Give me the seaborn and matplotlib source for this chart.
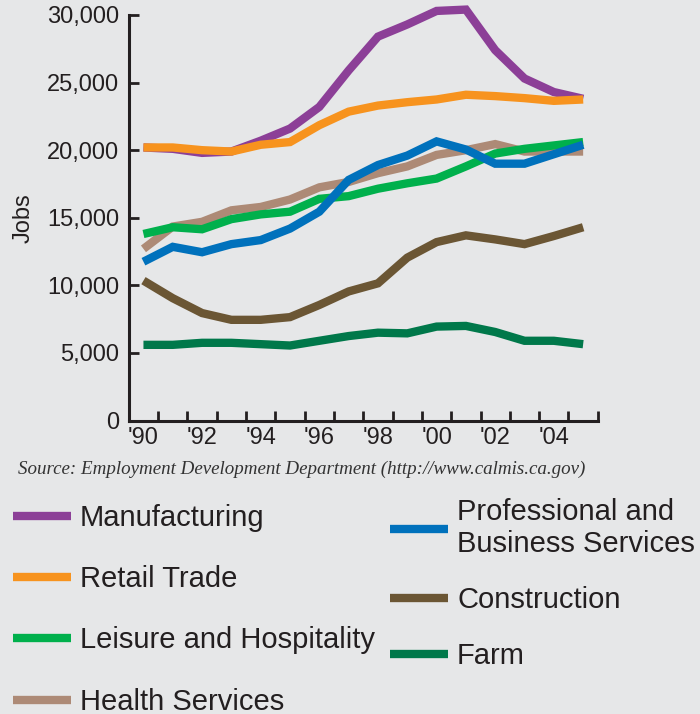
import pandas as pd
import seaborn as sns
import matplotlib.pyplot as plt
from matplotlib.lines import Line2D
from matplotlib.ticker import FuncFormatter

years = list(range(1990, 2006))

manufacturing = [20200, 20100, 19800, 19900, 20700, 21600, 23200, 25900,
                 28400, 29300, 30300, 30400, 27400, 25300, 24300, 23800]
retail_trade = [20200, 20200, 20000, 19900, 20400, 20600, 21850, 22850,
                23300, 23550, 23750, 24100, 24000, 23850, 23650, 23750]
leisure_hospitality = [13800, 14300, 14150, 14900, 15250, 15450, 16400, 16600,
                       17150, 17550, 17900, 18800, 19750, 20100, 20350, 20600]
health_services = [12700, 14350, 14700, 15550, 15800, 16350, 17250, 17650,
                   18300, 18800, 19650, 20000, 20450, 19900, 19900, 19900]
professional_business = [11750, 12850, 12450, 13050, 13350, 14200, 15450, 17800,
                         18900, 19600, 20650, 20050, 19000, 19000, 19700, 20400]
construction = [10350, 9050, 7950, 7450, 7450, 7650, 8550, 9550,
                10150, 12050, 13200, 13700, 13400, 13050, 13650, 14300]
farm = [5600, 5600, 5750, 5750, 5650, 5550, 5900, 6250,
        6500, 6450, 6950, 7000, 6550, 5900, 5900, 5650]

sectors = ["Manufacturing", "Retail Trade", "Leisure and Hospitality",
           "Health Services", "Professional and\nBusiness Services",
           "Construction", "Farm"]
series = [manufacturing, retail_trade, leisure_hospitality, health_services,
          professional_business, construction, farm]
colors = ["#8c3f97", "#f7931e", "#00b04c", "#ad8a76", "#0071bc", "#6b5634", "#00784a"]
palette = dict(zip(sectors, colors))

# order the lines are drawn in (later = on top)
draw_order = [sectors[0], sectors[3], sectors[2], sectors[1],
              sectors[5], sectors[6], sectors[4]]

rows = []
for name, vals in zip(sectors, series):
    for y, v in zip(years, vals):
        rows.append(dict(year=y, jobs=v, sector=name))
df = pd.DataFrame(rows)

bg = "#e6e7e8"
txt = "#231f20"

sns.set_style("ticks")
plt.rcParams["font.family"] = ["Liberation Sans", "DejaVu Sans"]

fig = plt.figure(figsize=(7, 7.14), dpi=100, facecolor=bg)
ax = fig.add_axes([0.184, 0.411, 0.67, 0.568])
ax.set_facecolor(bg)

sns.lineplot(data=df, x="year", y="jobs", hue="sector", hue_order=draw_order,
             palette=palette, linewidth=6, legend=False, ax=ax,
             solid_capstyle="butt", solid_joinstyle="miter")
for line in ax.lines:
    line.set_clip_on(False)

ax.set_xlim(1989.5, 2005.5)
ax.set_ylim(0, 30000)
ax.set_yticks(range(0, 30001, 5000))
ax.yaxis.set_major_formatter(FuncFormatter(lambda v, p: f"{int(v):,}"))
ax.set_xticks(range(1990, 2005, 2))
ax.set_xticklabels([f"'{y % 100:02d}" for y in range(1990, 2005, 2)])
ax.set_xticks([y + 0.5 for y in range(1989, 2006)], minor=True)

ax.tick_params(axis="x", which="major", length=0, pad=5, labelsize=17, labelcolor=txt)
ax.tick_params(axis="x", which="minor", direction="in", length=7, width=2, color=txt)
ax.tick_params(axis="y", direction="in", length=7, width=2, color=txt,
               pad=7, labelsize=17, labelcolor=txt)

for side in ["top", "right"]:
    ax.spines[side].set_visible(False)
for side in ["left", "bottom"]:
    ax.spines[side].set_linewidth(2.2)
    ax.spines[side].set_color(txt)

ax.set_xlabel("")
ax.set_ylabel("Jobs", fontsize=17, color=txt, labelpad=9)

fig.text(0.026, 0.343, "Source: Employment Development Department (http://www.calmis.ca.gov)",
         family="Liberation Serif", style="italic", fontsize=13.7, color="#333333",
         va="center", ha="left")

handles = {s: Line2D([], [], color=palette[s], linewidth=6, solid_capstyle="butt")
           for s in sectors}
legend_kw = dict(loc="upper left", frameon=False, fontsize=21, handlelength=2.0,
                 handletextpad=0.3, borderpad=0, borderaxespad=0, labelcolor=txt)

left_col = sectors[:4]
right_col = sectors[4:]
fig.legend([handles[s] for s in left_col], left_col,
           bbox_to_anchor=(13 / 700, 1 - 504 / 714), labelspacing=1.14, **legend_kw)
fig.legend([handles[s] for s in right_col], right_col,
           bbox_to_anchor=(390 / 700, 1 - 498 / 714), labelspacing=0.96, **legend_kw)

fig.savefig("out.png", dpi=100, facecolor=bg)
